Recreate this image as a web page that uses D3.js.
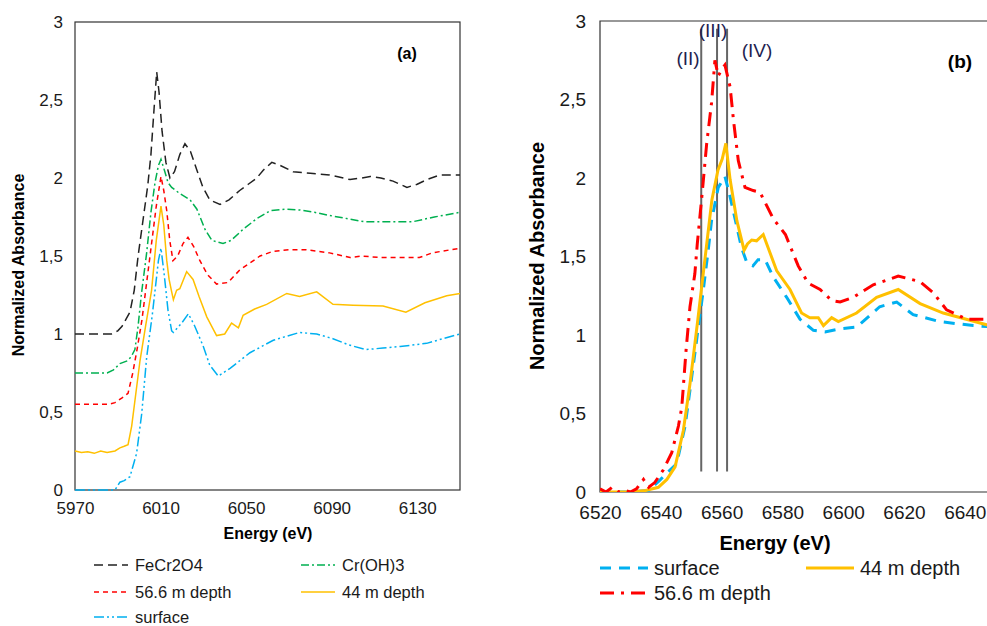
<!DOCTYPE html>
<html>
<head>
<meta charset="utf-8">
<script src="https://cdn.jsdelivr.net/npm/d3@7"></script>
<style>
  body { margin: 0; background: #fff; }
  svg { display: block; font-family: "Liberation Sans", Arial, sans-serif; }
</style>
</head>
<body>
<div id="chart"></div>
<script>
// ---- panel (a) data : Cr K-edge ----
var aTicksX = [5970, 6010, 6050, 6090, 6130];
var yTicks = [0, 0.5, 1, 1.5, 2, 2.5, 3];
var yTickLabels = ["0", "0,5", "1", "1,5", "2", "2,5", "3"];

var feE = [5970, 5987, 5990, 5992, 5995.7, 5997.7, 5999.5, 6002, 6004, 6005.5, 6007, 6008.2, 6009.3, 6010.7, 6012.5, 6014.4, 6016.5, 6019, 6021.4, 6024, 6027, 6029.8, 6033, 6037.8, 6042, 6047, 6051, 6055, 6058, 6062, 6066, 6072, 6080, 6089, 6098.6, 6104, 6108, 6113, 6118.7, 6125.2, 6130, 6134.6, 6140.6, 6150];
var feV = [1, 1, 1.02, 1.05, 1.14, 1.28, 1.5, 1.75, 1.95, 2.15, 2.45, 2.68, 2.55, 2.3, 2.1, 2.0, 2.04, 2.15, 2.22, 2.17, 2.05, 1.94, 1.86, 1.83, 1.86, 1.92, 1.96, 2.0, 2.05, 2.1, 2.08, 2.04, 2.03, 2.02, 1.99, 2.0, 2.01, 2.0, 1.98, 1.94, 1.96, 1.99, 2.02, 2.02];

var crE = [5970, 5985, 5988, 5991, 5994.8, 5996.5, 5998, 5999.5, 6001, 6003.5, 6005.5, 6007.4, 6009, 6010.2, 6011.8, 6013.5, 6015.2, 6019, 6023.8, 6027, 6030.8, 6034, 6039.2, 6043, 6048.5, 6055, 6061.2, 6068, 6075, 6082, 6089, 6097, 6105, 6114, 6128, 6138, 6150];
var crV = [0.75, 0.75, 0.77, 0.81, 0.83, 0.86, 0.9, 1.05, 1.25, 1.52, 1.78, 1.97, 2.08, 2.12, 2.05, 1.97, 1.94, 1.9, 1.86, 1.8, 1.67, 1.6, 1.58, 1.6, 1.67, 1.74, 1.79, 1.8, 1.795, 1.78, 1.76, 1.74, 1.72, 1.72, 1.72, 1.75, 1.78];

var d56aE = [5970, 5986, 5988.7, 5992, 5994.8, 5997, 5999, 6001.3, 6003.5, 6005.8, 6008, 6010.2, 6011.5, 6012.9, 6014.3, 6015.8, 6018, 6020.5, 6022.8, 6025.5, 6028.4, 6032, 6036.2, 6041.5, 6047, 6056.5, 6062.6, 6070, 6078, 6089, 6098.6, 6104, 6112.6, 6131, 6137, 6150];
var d56aV = [0.55, 0.55, 0.56, 0.59, 0.62, 0.75, 0.9, 1.09, 1.33, 1.58, 1.82, 2.01, 1.92, 1.79, 1.6, 1.47, 1.5, 1.58, 1.62, 1.56, 1.47, 1.38, 1.32, 1.33, 1.41, 1.5, 1.53, 1.54, 1.54, 1.52, 1.49, 1.5, 1.49, 1.49, 1.52, 1.55];

var d44aE = [5970, 5973, 5976, 5979, 5982, 5985, 5988.7, 5991, 5993, 5994.8, 5996.5, 6000.4, 6003, 6005.8, 6008, 6010.2, 6011.5, 6012.9, 6014, 6015.2, 6016, 6017.5, 6019, 6022.2, 6025.2, 6028, 6031.6, 6036.2, 6040, 6043.2, 6046.4, 6048.6, 6054, 6059.6, 6069, 6075, 6083, 6090.6, 6100, 6114, 6124.7, 6133.6, 6143.8, 6150];
var d44aV = [0.25, 0.24, 0.245, 0.235, 0.25, 0.24, 0.25, 0.27, 0.28, 0.29, 0.41, 0.83, 1.05, 1.28, 1.6, 1.82, 1.7, 1.47, 1.35, 1.27, 1.22, 1.28, 1.29, 1.4, 1.35, 1.24, 1.11, 0.99, 1.0, 1.07, 1.04, 1.12, 1.16, 1.19, 1.26, 1.24, 1.27, 1.19, 1.185, 1.18, 1.14, 1.2, 1.245, 1.26];

var surfaE = [5970, 5988.7, 5991, 5993, 5995.7, 5998.8, 6001.2, 6003.5, 6006.2, 6009, 6010.2, 6011.8, 6013.5, 6015.2, 6016, 6019.9, 6023, 6026, 6030, 6033, 6037, 6042.5, 6051.8, 6062.7, 6075, 6083, 6090.6, 6098, 6106, 6114, 6122, 6134.4, 6142, 6150];
var surfaV = [0, 0, 0.05, 0.06, 0.085, 0.235, 0.49, 0.85, 1.13, 1.47, 1.55, 1.37, 1.15, 1.02, 1.01, 1.07, 1.13, 1.05, 0.92, 0.8, 0.73, 0.78, 0.88, 0.96, 1.01, 1.0, 0.97, 0.93, 0.9, 0.91, 0.92, 0.94, 0.97, 1.0];

// ---- panel (b) data : Fe K-edge ----
var bTicksX = [6520, 6540, 6560, 6580, 6600, 6620, 6640];

var surfbE = [6520, 6530, 6536, 6539.7, 6542, 6545.2, 6548, 6549.6, 6551.8, 6554, 6555.6, 6556.7, 6558.9, 6561.1, 6562.8, 6565, 6566.5, 6568.3, 6570.3, 6572, 6574.3, 6577, 6581.4, 6585.8, 6590.2, 6594, 6599, 6604.4, 6612, 6617.6, 6623, 6631.8, 6642.8, 6650];
var surfbV = [0, 0, 0.01, 0.076, 0.12, 0.18, 0.42, 0.65, 0.97, 1.29, 1.54, 1.73, 1.94, 2.01, 1.88, 1.69, 1.56, 1.46, 1.44, 1.48, 1.48, 1.37, 1.24, 1.1, 1.03, 1.02, 1.04, 1.05, 1.18, 1.21, 1.13, 1.085, 1.06, 1.05];

var d44bE = [6520, 6530, 6535, 6539.2, 6542, 6544.7, 6547.4, 6549.6, 6552.2, 6554.5, 6556.8, 6558.8, 6560.2, 6561.4, 6562.8, 6565, 6567.4, 6568.5, 6569.9, 6571.5, 6573.7, 6578.1, 6582.5, 6586.3, 6589, 6591.8, 6593.5, 6596.2, 6598.4, 6604.4, 6611, 6618.1, 6625.3, 6632.9, 6650];
var d44bV = [0, 0, 0.01, 0.03, 0.08, 0.16, 0.39, 0.69, 1.1, 1.48, 1.86, 2.05, 2.12, 2.22, 1.99, 1.73, 1.54, 1.58, 1.605, 1.6, 1.64, 1.41, 1.29, 1.14, 1.11, 1.11, 1.06, 1.11, 1.085, 1.14, 1.24, 1.29, 1.2, 1.14, 1.05];

var d56bE = [6520, 6522, 6524, 6526, 6528, 6530, 6532, 6534.3, 6536, 6538, 6540.8, 6543.6, 6545.8, 6546.9, 6548.3, 6549.6, 6551.2, 6552, 6553.4, 6555.1, 6556.7, 6557.8, 6558.9, 6560, 6561.1, 6562.8, 6563.9, 6565.5, 6567.7, 6570.4, 6572.6, 6577, 6581, 6585.2, 6588.5, 6592.4, 6596.2, 6599, 6603.3, 6609.9, 6618.1, 6625.3, 6629.6, 6634, 6640.6, 6650];
var d56bV = [0.02, 0, 0.03, 0, 0.01, 0, 0.02, 0.08, 0.03, 0.06, 0.14, 0.25, 0.42, 0.54, 0.9, 1.18, 1.39, 1.58, 1.86, 2.22, 2.48, 2.75, 2.65, 2.69, 2.72, 2.58, 2.37, 2.11, 1.94, 1.92, 1.91, 1.74, 1.64, 1.44, 1.33, 1.29, 1.22, 1.21, 1.24, 1.32, 1.375, 1.34, 1.27, 1.16, 1.1, 1.1];

var markerE = [6553.3, 6558.5, 6561.8];
var markerLabels = ["(II)", "(III)", "(IV)"];

var W = 987, H = 626;
var svg = d3.select("#chart").append("svg").attr("width", W).attr("height", H);

function zip(E, V) { return E.map(function(e, i) { return [e, V[i]]; }); }

// ================= panel (a) =================
var xa = d3.scaleLinear().domain([5970, 6150]).range([75, 460]);
var ya = d3.scaleLinear().domain([0, 3]).range([490, 22]);
var ga = svg.append("g");

ga.append("rect").attr("x", 75).attr("y", 22).attr("width", 385).attr("height", 468)
  .attr("fill", "none").attr("stroke", "#333").attr("stroke-width", 1.2);

var axA = ga.append("g").attr("transform", "translate(0,490)")
  .call(d3.axisBottom(xa).tickValues(aTicksX).tickSize(0).tickPadding(12).tickFormat(d3.format("d")));
axA.select(".domain").remove();
axA.selectAll("text").attr("font-size", 17).attr("fill", "#1a1a1a").attr("font-family", "Liberation Sans, Arial");

var ayA = ga.append("g").attr("transform", "translate(75,0)")
  .call(d3.axisLeft(ya).tickValues(yTicks).tickSize(0).tickPadding(12).tickFormat(function(d, i) { return yTickLabels[i]; }));
ayA.select(".domain").remove();
ayA.selectAll("text").attr("font-size", 17).attr("fill", "#1a1a1a").attr("font-family", "Liberation Sans, Arial");

var lineA = d3.line().x(function(d) { return xa(d[0]); }).y(function(d) { return ya(d[1]); });

var seriesA = [
  { name: "FeCr2O4", data: zip(feE, feV), color: "#222", dash: "9,5" },
  { name: "Cr(OH)3", data: zip(crE, crV), color: "#00b050", dash: "8,3,2,3" },
  { name: "56.6 m depth", data: zip(d56aE, d56aV), color: "#ff0000", dash: "5,4" },
  { name: "44 m depth", data: zip(d44aE, d44aV), color: "#ffc000", dash: null },
  { name: "surface", data: zip(surfaE, surfaV), color: "#00b0f0", dash: "10,3,2,3,2,3" }
];

seriesA.forEach(function(s) {
  ga.append("path").datum(s.data).attr("d", lineA)
    .attr("fill", "none").attr("stroke", s.color).attr("stroke-width", 1.5)
    .attr("stroke-dasharray", s.dash);
});

ga.append("text").attr("x", 407).attr("y", 59).attr("text-anchor", "middle")
  .attr("font-weight", "bold").attr("font-size", 16).text("(a)");

ga.append("text").attr("x", 268).attr("y", 539).attr("text-anchor", "middle")
  .attr("font-weight", "bold").attr("font-size", 16).text("Energy (eV)");
ga.append("text").attr("transform", "translate(24,265) rotate(-90)").attr("text-anchor", "middle")
  .attr("font-weight", "bold").attr("font-size", 16).text("Normalized Absorbance");

// legend (a)
var legA = [[94, 565], [301, 565], [94, 592], [301, 592], [94, 617]];
seriesA.forEach(function(s, i) {
  var p = legA[i];
  ga.append("line").attr("x1", p[0]).attr("x2", p[0] + 34).attr("y1", p[1]).attr("y2", p[1])
    .attr("stroke", s.color).attr("stroke-width", 1.5).attr("stroke-dasharray", s.dash);
  ga.append("text").attr("x", p[0] + 41).attr("y", p[1] + 6).attr("font-size", 16.5)
    .attr("fill", "#1a1a1a").text(s.name);
});

// ================= panel (b) =================
var xb = d3.scaleLinear().domain([6520, 6660]).range([600, 600 + 140 * 3.04]);
var yb = d3.scaleLinear().domain([0, 3]).range([492, 21]);
var gb = svg.append("g");

gb.append("clipPath").attr("id", "clipB").append("rect")
  .attr("x", 600).attr("y", 21).attr("width", 387).attr("height", 471);

gb.append("path").attr("d", "M" + W + ",21H600V492H" + W)
  .attr("fill", "none").attr("stroke", "#333").attr("stroke-width", 1.2);

var axB = gb.append("g").attr("transform", "translate(0,492)")
  .call(d3.axisBottom(xb).tickValues(bTicksX).tickSize(0).tickPadding(14).tickFormat(d3.format("d")));
axB.select(".domain").remove();
axB.selectAll("text").attr("font-size", 19).attr("fill", "#1a1a1a").attr("font-family", "Liberation Sans, Arial");

var ayB = gb.append("g").attr("transform", "translate(600,0)")
  .call(d3.axisLeft(yb).tickValues(yTicks).tickSize(0).tickPadding(14).tickFormat(function(d, i) { return yTickLabels[i]; }));
ayB.select(".domain").remove();
ayB.selectAll("text").attr("font-size", 19).attr("fill", "#1a1a1a").attr("font-family", "Liberation Sans, Arial");

// marker lines
gb.selectAll("line.marker").data(markerE).enter().append("line").attr("class", "marker")
  .attr("x1", function(d) { return xb(d); }).attr("x2", function(d) { return xb(d); })
  .attr("y1", yb(2.95)).attr("y2", yb(0.13))
  .attr("stroke", "#666").attr("stroke-width", 2);

var lineB = d3.line().x(function(d) { return xb(d[0]); }).y(function(d) { return yb(d[1]); });

var seriesB = [
  { name: "surface", data: zip(surfbE, surfbV), color: "#00b0f0", dash: "11,8" },
  { name: "44 m depth", data: zip(d44bE, d44bV), color: "#ffc000", dash: null },
  { name: "56.6 m depth", data: zip(d56bE, d56bV), color: "#ff0000", dash: "14,7,3,7" }
];

var plotB = gb.append("g").attr("clip-path", "url(#clipB)");
seriesB.forEach(function(s) {
  plotB.append("path").datum(s.data).attr("d", lineB)
    .attr("fill", "none").attr("stroke", s.color).attr("stroke-width", 3)
    .attr("stroke-dasharray", s.dash);
});

var markerPos = [[688, 65], [713, 37], [757, 57]];
markerLabels.forEach(function(t, i) {
  gb.append("text").attr("x", markerPos[i][0]).attr("y", markerPos[i][1]).attr("text-anchor", "middle")
    .attr("font-size", 19).attr("fill", "#1f1f50").text(t);
});

gb.append("text").attr("x", 960).attr("y", 68).attr("text-anchor", "middle")
  .attr("font-weight", "bold").attr("font-size", 19).text("(b)");

gb.append("text").attr("x", 775).attr("y", 550).attr("text-anchor", "middle")
  .attr("font-weight", "bold").attr("font-size", 20).text("Energy (eV)");
gb.append("text").attr("transform", "translate(544,256) rotate(-90)").attr("text-anchor", "middle")
  .attr("font-weight", "bold").attr("font-size", 20).text("Normalized Absorbance");

// legend (b)
var legB = [[600, 568], [806, 568], [600, 593]];
seriesB.forEach(function(s, i) {
  var p = legB[i];
  gb.append("line").attr("x1", p[0]).attr("x2", p[0] + 48).attr("y1", p[1]).attr("y2", p[1])
    .attr("stroke", s.color).attr("stroke-width", 3).attr("stroke-dasharray", s.dash);
  gb.append("text").attr("x", p[0] + 54).attr("y", p[1] + 7).attr("font-size", 20)
    .attr("fill", "#1a1a1a").text(s.name);
});
</script>
</body>
</html>
